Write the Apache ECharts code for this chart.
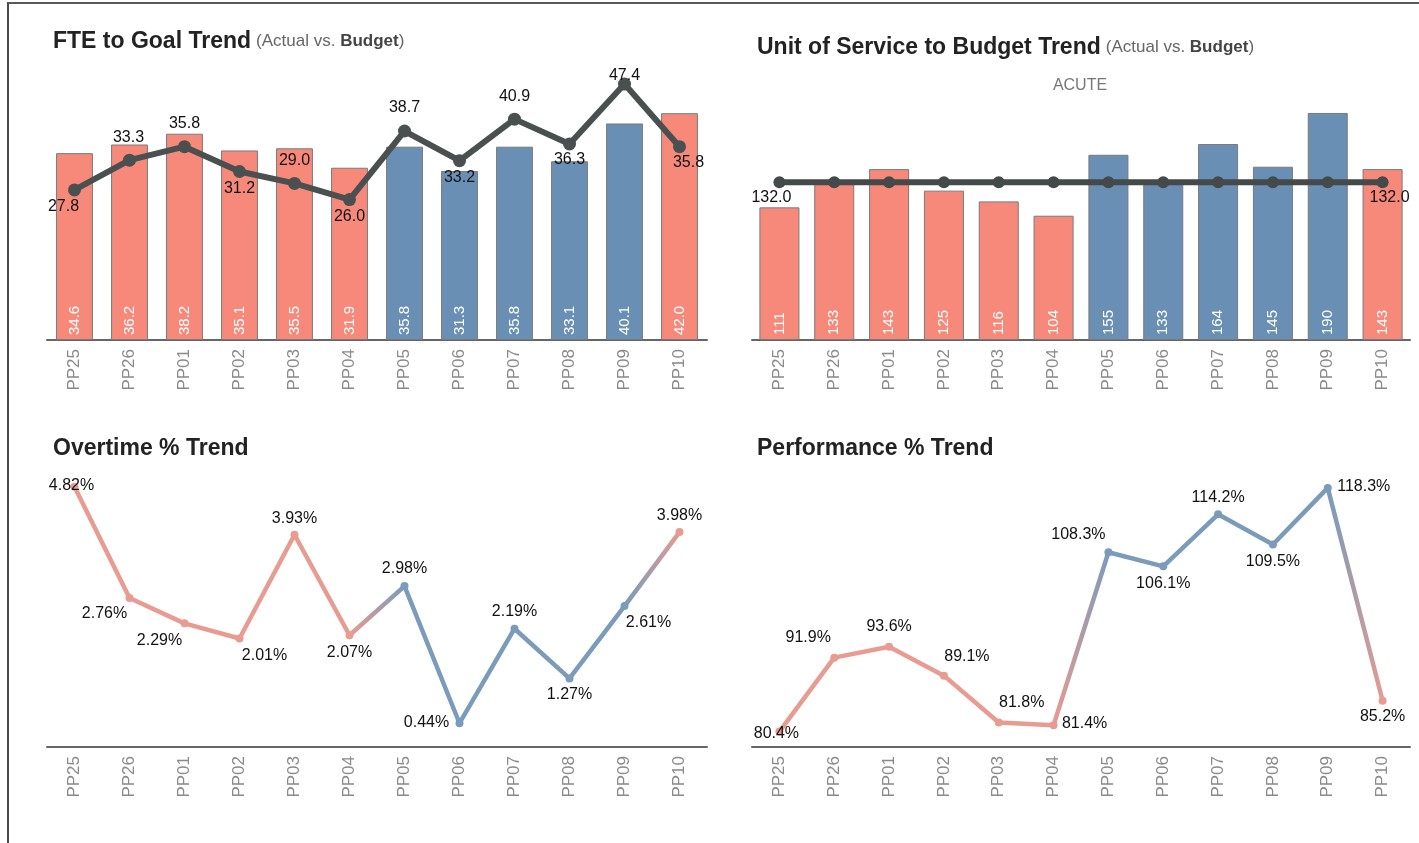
<!DOCTYPE html>
<html>
<head>
<meta charset="utf-8">
<script src="https://cdn.jsdelivr.net/npm/echarts@6/dist/echarts.min.js"></script>
<style>
  html, body { margin: 0; padding: 0; background: #fff; }
  #frame { position: absolute; left: 7px; top: 2px; right: 0; bottom: 0; border-top: 2px solid #5a5a5a; border-left: 2px solid #4a4a4a; }
  #chart { position: absolute; left: 0; top: 0; width: 1419px; height: 843px; }
</style>
</head>
<body>
<div id="frame"></div>
<div id="chart"></div>
<script>
// periods
const periods = ["PP25", "PP26", "PP01", "PP02", "PP03", "PP04", "PP05", "PP06", "PP07", "PP08", "PP09", "PP10"];

// FTE to goal
const fteBudget = [34.6, 36.2, 38.2, 35.1, 35.5, 31.9, 35.8, 31.3, 35.8, 33.1, 40.1, 42.0];
const fteActual = [27.8, 33.3, 35.8, 31.2, 29.0, 26.0, 38.7, 33.2, 40.9, 36.3, 47.4, 35.8];

// unit of service
const uosActual = [111, 133, 143, 125, 116, 104, 155, 133, 164, 145, 190, 143];
const uosBudget = [132, 132, 132, 132, 132, 132, 132, 132, 132, 132, 132, 132];

// overtime %, performance %
const overtimePct = [4.82, 2.76, 2.29, 2.01, 3.93, 2.07, 2.98, 0.44, 2.19, 1.27, 2.61, 3.98];
const performancePct = [80.4, 91.9, 93.6, 89.1, 81.8, 81.4, 108.3, 106.1, 114.2, 109.5, 118.3, 85.2];

// label placement (px offsets from each point)
const fteLabelOffsets = [[-11, 17], [-1, -23], [0, -23], [0, 17], [0, -23], [0, 17], [0, -23], [0, 17], [0, -23], [0, 16], [0, -8], [9, 16]];
const otLabelOffsets = [[-3, -1], [-25, 16], [-25, 17], [25, 17], [0, -16], [0, 17], [0, -17], [-33, -1], [0, -17], [0, 16], [24, 17], [0, -16]];
const perfLabelOffsets = [[-3, 2], [-26, -20], [0, -20], [23, -19], [23, -20], [31, -2], [-30, -18], [0, 17], [0, -17], [0, 17], [36, -1], [0, 16]];

const RED = "#f7897b";
const BLUE = "#6a8fb5";
const LINE_RED = "#e89b91";
const LINE_BLUE = "#7b9bba";
const DARK = "#4a504f";
const FONT = "Arial, 'Liberation Sans', sans-serif";

const isGood = i => performancePct[i] >= 100;
const barColor = p => (isGood(p.dataIndex) ? BLUE : RED);

function gradientFor(n) {
  const stops = [];
  for (let i = 0; i < n; i++) {
    stops.push({ offset: i / (n - 1), color: isGood(i) ? LINE_BLUE : LINE_RED });
  }
  return new echarts.graphic.LinearGradient(0, 0, 1, 0, stops);
}

function titleRich(main, sub, top, left) {
  return {
    left: left, top: top,
    text: sub ? "{a|" + main + "} {b|(Actual vs. }{c|Budget}{b|)}" : "{a|" + main + "}",
    textStyle: {
      rich: {
        a: { fontSize: 23, fontWeight: "bold", color: "#222", fontFamily: FONT },
        b: { fontSize: 17, fontWeight: "normal", color: "#666", fontFamily: FONT },
        c: { fontSize: 17, fontWeight: "bold", color: "#444", fontFamily: FONT }
      }
    }
  };
}

const grids = [
  { left: 47, right: 712, top: 70, bottom: 503 },
  { left: 752, right: 9, top: 101, bottom: 503 },
  { left: 47, right: 712, top: 477, bottom: 96 },
  { left: 752, right: 9, top: 477, bottom: 96 }
];

const xAxes = grids.map((g, i) => ({
  type: "category",
  gridIndex: i,
  data: periods,
  axisTick: { show: false },
  axisLine: { lineStyle: { color: "#666", width: 2 } },
  axisLabel: { rotate: 90, color: "#8a8a8a", fontSize: 17, margin: 9, fontFamily: FONT }
}));

const yRanges = [[0, 50], [0, 200], [0, 5], [78, 120]];
const yAxes = yRanges.map((r, i) => ({
  type: "value", gridIndex: i, min: r[0], max: r[1], show: false, splitLine: { show: false }
}));

const barLabel = fmt => ({
  show: true,
  position: "insideBottom",
  rotate: 90,
  align: "left",
  verticalAlign: "middle",
  distance: 5,
  color: "#fff",
  fontSize: 15,
  fontFamily: FONT,
  formatter: p => fmt(p.value)
});

const withOffsets = (vals, offs, fmt) => vals.map((v, i) => ({
  value: v,
  label: offs[i] ? { show: true, offset: offs[i], formatter: fmt(v) } : { show: false }
}));

const lineLabel = { position: "inside", color: "#111", fontSize: 16, fontFamily: FONT };

const option = {
  animation: false,
  textStyle: { fontFamily: FONT },
  title: [
    titleRich("FTE to Goal Trend", true, 25, 48),
    titleRich("Unit of Service to Budget Trend", true, 31, 752),
    titleRich("Overtime % Trend", false, 432, 48),
    titleRich("Performance % Trend", false, 432, 752)
  ],
  graphic: [{
    type: "text", x: 1080, y: 86,
    style: { text: "ACUTE", fill: "#777", font: "16px " + FONT, textAlign: "center", textVerticalAlign: "middle" }
  }],
  grid: grids,
  xAxis: xAxes,
  yAxis: yAxes,
  series: [
    {
      type: "bar", xAxisIndex: 0, yAxisIndex: 0, data: fteBudget,
      barCategoryGap: "33%",
      itemStyle: { color: barColor, borderColor: "#7a7a7a", borderWidth: 1 },
      label: barLabel(v => v.toFixed(1))
    },
    {
      type: "line", xAxisIndex: 0, yAxisIndex: 0,
      data: withOffsets(fteActual, fteLabelOffsets, v => v.toFixed(1)),
      symbol: "circle", symbolSize: 13,
      lineStyle: { color: DARK, width: 6 },
      itemStyle: { color: DARK },
      label: lineLabel,
      z: 5
    },
    {
      type: "bar", xAxisIndex: 1, yAxisIndex: 1, data: uosActual,
      barCategoryGap: "27%",
      itemStyle: { color: barColor, borderColor: "#7a7a7a", borderWidth: 1 },
      label: barLabel(v => String(v))
    },
    {
      type: "line", xAxisIndex: 1, yAxisIndex: 1,
      data: withOffsets(uosBudget, uosBudget.map((v, i) => i === 0 ? [-8, 15] : i === uosBudget.length - 1 ? [7, 15] : null), v => v.toFixed(1)),
      symbol: "circle", symbolSize: 12,
      lineStyle: { color: "#444a49", width: 6 },
      itemStyle: { color: "#444a49" },
      label: lineLabel,
      z: 5
    },
    {
      type: "line", xAxisIndex: 2, yAxisIndex: 2,
      data: withOffsets(overtimePct, otLabelOffsets, v => v.toFixed(2) + "%"),
      symbol: "circle", symbolSize: 8,
      lineStyle: { color: gradientFor(overtimePct.length), width: 4.5 },
      itemStyle: { color: p => (isGood(p.dataIndex) ? LINE_BLUE : LINE_RED) },
      label: lineLabel
    },
    {
      type: "line", xAxisIndex: 3, yAxisIndex: 3,
      data: withOffsets(performancePct, perfLabelOffsets, v => v.toFixed(1) + "%"),
      symbol: "circle", symbolSize: 8,
      lineStyle: { color: gradientFor(performancePct.length), width: 4.5 },
      itemStyle: { color: p => (isGood(p.dataIndex) ? LINE_BLUE : LINE_RED) },
      label: lineLabel
    }
  ]
};

const chart = echarts.init(document.getElementById("chart"));
chart.setOption(option);
</script>
</body>
</html>
